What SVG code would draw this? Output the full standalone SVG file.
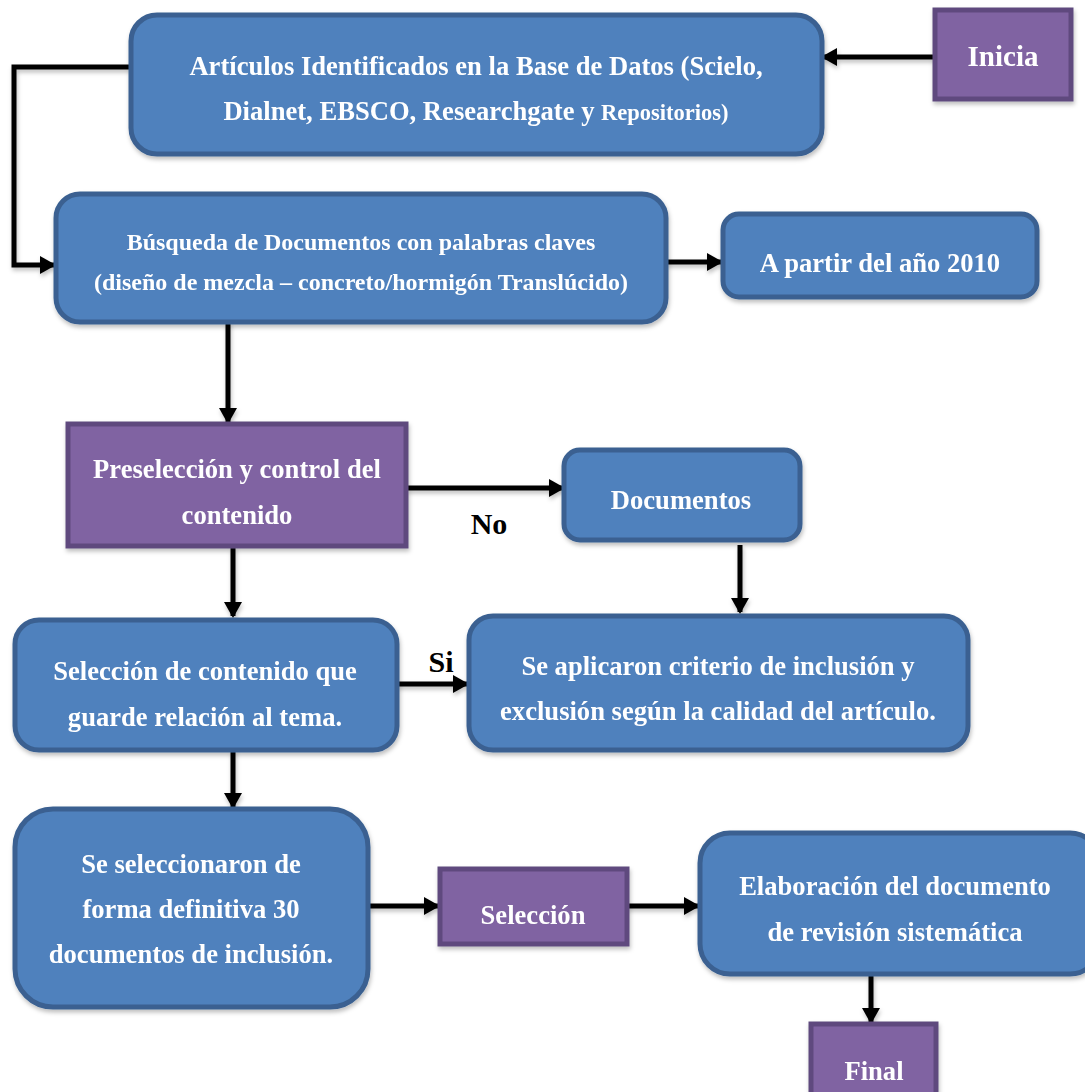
<svg xmlns="http://www.w3.org/2000/svg" width="1085" height="1092" viewBox="0 0 1085 1092">
<style>
.b{fill:#4f81bd;stroke:#3a6191;stroke-width:5}
.p{fill:#8064a2;stroke:#5e4a7e;stroke-width:5}
.t{font-family:"Liberation Serif","Times New Roman",serif;font-weight:bold;fill:#ffffff;text-anchor:middle;font-size:26.6px}
.k{font-family:"Liberation Serif","Times New Roman",serif;font-weight:bold;fill:#000000;text-anchor:middle;font-size:30px}
.c{fill:none;stroke:#000000;stroke-width:5;marker-end:url(#ah)}
</style>
<defs>
<marker id="ah" markerUnits="userSpaceOnUse" markerWidth="16" markerHeight="18" refX="14" refY="9" orient="auto">
<path d="M0,0 L16,9 L0,18 Z" fill="#000000"/>
</marker>
<filter id="sh" x="-10%" y="-10%" width="125%" height="130%">
<feDropShadow dx="1" dy="3" stdDeviation="2" flood-color="#000000" flood-opacity="0.25"/>
</filter>
</defs>
<rect width="1085" height="1092" fill="#ffffff"/>
<g id="connectors" filter="url(#sh)">
<path class="c" d="M934,57 L823,57"/>
<path class="c" d="M130,67 L14,67 L14,265 L54,265"/>
<path class="c" d="M666,262 L721,262"/>
<path class="c" d="M228,322 L228,422"/>
<path class="c" d="M407,488 L563,488"/>
<path class="c" d="M740,545 L740,612"/>
<path class="c" d="M233,547 L233,616"/>
<path class="c" d="M397,684 L467,684"/>
<path class="c" d="M233,750 L233,807"/>
<path class="c" d="M368,906 L438,906"/>
<path class="c" d="M627,906 L698,906"/>
<path class="c" d="M871,975 L871,1022"/>
</g>
<g id="n-articulos" filter="url(#sh)">
<rect class="b" x="131" y="15" width="691" height="139" rx="26"/>
<text class="t" x="476" y="75">Artículos Identificados en la Base de Datos (Scielo,</text>
<text class="t" x="476" y="120">Dialnet, EBSCO, Researchgate y <tspan font-size="22.5px">Repositorios)</tspan></text>
</g>
<g id="n-inicia" filter="url(#sh)">
<rect class="p" x="935" y="10" width="136" height="89"/>
<text class="t" x="1003" y="66" font-size="29px" style="font-size:29px">Inicia</text>
</g>
<g id="n-busqueda" filter="url(#sh)">
<rect class="b" x="56" y="194" width="610" height="128" rx="24"/>
<text class="t" x="361" y="250" style="font-size:24px">Búsqueda de Documentos con palabras claves</text>
<text class="t" x="361" y="290" style="font-size:24px">(diseño de mezcla – concreto/hormigón Translúcido)</text>
</g>
<g id="n-apartir" filter="url(#sh)">
<rect class="b" x="723" y="214" width="314" height="83" rx="16"/>
<text class="t" x="880" y="272">A partir del año 2010</text>
</g>
<g id="n-preseleccion" filter="url(#sh)">
<rect class="p" x="68" y="424" width="338" height="122"/>
<text class="t" x="237" y="478">Preselección y control del</text>
<text class="t" x="237" y="524">contenido</text>
</g>
<text class="k" x="489" y="534">No</text>
<g id="n-documentos" filter="url(#sh)">
<rect class="b" x="564" y="450" width="236" height="90" rx="16"/>
<text class="t" x="681" y="509">Documentos</text>
</g>
<g id="n-seleccion-contenido" filter="url(#sh)">
<rect class="b" x="15" y="620" width="382" height="130" rx="24"/>
<text class="t" x="205" y="680">Selección de contenido que</text>
<text class="t" x="205" y="726">guarde relación al tema.</text>
</g>
<text class="k" x="441" y="672">Si</text>
<g id="n-criterio" filter="url(#sh)">
<rect class="b" x="469" y="616" width="499" height="134" rx="24"/>
<text class="t" x="718" y="675">Se aplicaron criterio de inclusión y</text>
<text class="t" x="718" y="720">exclusión según la calidad del artículo.</text>
</g>
<g id="n-definitiva" filter="url(#sh)">
<rect class="b" x="15" y="809" width="353" height="198" rx="38"/>
<text class="t" x="191" y="873">Se seleccionaron de</text>
<text class="t" x="191" y="918">forma definitiva 30</text>
<text class="t" x="191" y="963">documentos de inclusión.</text>
</g>
<g id="n-seleccion" filter="url(#sh)">
<rect class="p" x="440" y="869" width="187" height="75"/>
<text class="t" x="533" y="924">Selección</text>
</g>
<g id="n-elaboracion" filter="url(#sh)">
<rect class="b" x="700" y="833" width="400" height="141" rx="30"/>
<text class="t" x="895" y="895">Elaboración del documento</text>
<text class="t" x="895" y="941">de revisión sistemática</text>
</g>
<g id="n-final" filter="url(#sh)">
<rect class="p" x="811" y="1024" width="125" height="80"/>
<text class="t" x="874" y="1080">Final</text>
</g>
</svg>
